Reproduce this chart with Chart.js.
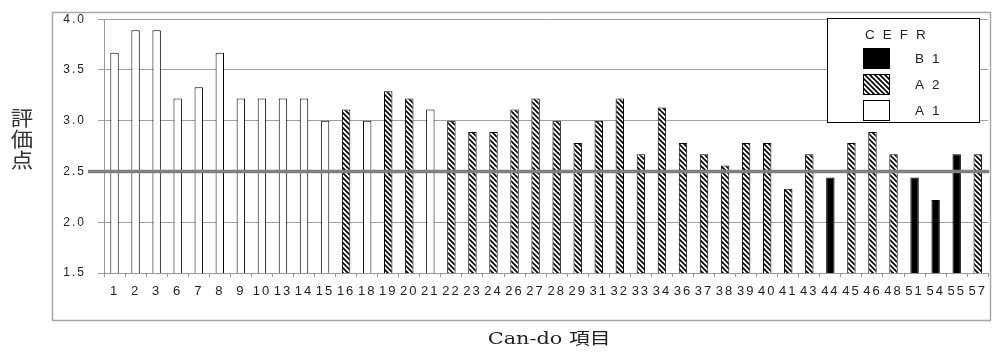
<!DOCTYPE html>
<html>
<head>
<meta charset="utf-8">
<script src="https://cdn.jsdelivr.net/npm/chart.js@4.4.1/dist/chart.umd.min.js"></script>
<style>
  html, body { margin: 0; padding: 0; background: #fff; }
  #wrap { width: 992px; height: 354px; }
</style>
</head>
<body>
<div id="wrap"><canvas id="c" width="992" height="354"></canvas></div>
<script>
// Can-do item numbers (x categories)
const items = [1, 2, 3, 6, 7, 8, 9, 10, 13, 14, 15, 16, 18, 19, 20, 21, 22, 23, 24, 26, 27,
               28, 29, 31, 32, 33, 34, 36, 37, 38, 39, 40, 41, 43, 44, 45, 46, 48, 51, 54, 55, 57];
// mean rating per item
const scores = [3.67, 3.89, 3.89, 3.22, 3.33, 3.67, 3.22, 3.22, 3.22, 3.22, 3.00, 3.11, 3.00, 3.29, 3.22, 3.11, 3.00, 2.89, 2.89, 3.11, 3.22,
                3.00, 2.78, 3.00, 3.22, 2.67, 3.13, 2.78, 2.67, 2.56, 2.78, 2.78, 2.33, 2.67, 2.44, 2.78, 2.89, 2.67, 2.44, 2.22, 2.67, 2.67];
// CEFR level of each item
const levels = ['A1', 'A1', 'A1', 'A1', 'A1', 'A1', 'A1', 'A1', 'A1', 'A1', 'A1', 'A2', 'A1', 'A2', 'A2', 'A1', 'A2', 'A2', 'A2', 'A2', 'A2',
                'A2', 'A2', 'A2', 'A2', 'A2', 'A2', 'A2', 'A2', 'A2', 'A2', 'A2', 'A2', 'A2', 'B1', 'A2', 'A2', 'A2', 'B1', 'B1', 'B1', 'A2'];
// legend order (top to bottom)
const levelOrder = ['B1', 'A2', 'A1'];
// y-axis tick values
const yTicks = [1.5, 2.0, 2.5, 3.0, 3.5, 4.0];
// reference line value
const passLine = 2.5;

const yTitle = ['評', '価', '点'];
const xTitle = 'Can-do 項目';
const legendTitle = 'CEFR';

function hatchPattern() {
  const s = 5;
  const c = document.createElement('canvas');
  c.width = s; c.height = s;
  const g = c.getContext('2d');
  g.fillStyle = '#fff';
  g.fillRect(0, 0, s, s);
  g.strokeStyle = '#000';
  g.lineWidth = 1.7;
  g.beginPath();
  g.moveTo(-1, -1); g.lineTo(s + 1, s + 1);
  g.moveTo(-1, s - 1); g.lineTo(1, s + 1);
  g.moveTo(s - 1, -1); g.lineTo(s + 1, 1);
  g.stroke();
  return g.createPattern(c, 'repeat');
}

const fills = { B1: '#000000', A2: hatchPattern(), A1: '#ffffff' };

const datasets = levelOrder.map(lv => ({
  label: lv,
  data: scores.map((v, i) => levels[i] === lv ? v : null),
  backgroundColor: fills[lv],
  borderColor: '#000',
  borderWidth: 1,
  borderSkipped: 'bottom',
  categoryPercentage: 1.0,
  barPercentage: 0.4
}));

const decor = {
  id: 'decor',
  beforeDraw(chart) {
    const ctx = chart.ctx;
    // outer frame
    ctx.save();
    ctx.strokeStyle = '#a9a9a9';
    ctx.lineWidth = 1.5;
    ctx.strokeRect(52.5, 12.5, 938, 308);
    ctx.restore();
    // spacing for tick labels
    ctx.letterSpacing = '2px';
  },
  afterDatasetsDraw(chart) {
    const ctx = chart.ctx;
    const a = chart.chartArea;
    const y = chart.scales.y.getPixelForValue(passLine);
    ctx.save();
    ctx.strokeStyle = '#7f7f7f';
    ctx.lineWidth = 3.5;
    ctx.beginPath();
    ctx.moveTo(a.left - 16, y);
    ctx.lineTo(a.right + 1, y);
    ctx.stroke();
    ctx.restore();
  },
  afterDraw(chart) {
    const ctx = chart.ctx;
    const a = chart.chartArea;
    ctx.save();
    ctx.letterSpacing = '0px';
    ctx.fillStyle = '#333';
    ctx.textAlign = 'center';
    ctx.textBaseline = 'middle';

    // vertical y-axis title
    ctx.font = '20px "Noto Sans CJK JP"';
    yTitle.forEach((ch, i) => {
      ctx.save();
      ctx.translate(22, 118 + i * 21);
      ctx.scale(1.12, 1);
      ctx.fillText(ch, 0, 0);
      ctx.restore();
    });

    // x-axis title
    ctx.font = '16px "DejaVu Serif", "Noto Sans CJK JP"';
    ctx.fillStyle = '#222';
    ctx.save();
    ctx.translate((a.left + a.right) / 2 + 3, 340);
    ctx.scale(1.3, 1);
    ctx.fillText(xTitle, 0, 0);
    ctx.restore();

    // legend box
    const bx = 827, by = 18, bw = 152, bh = 104;
    ctx.fillStyle = '#fff';
    ctx.fillRect(bx, by, bw, bh);
    ctx.strokeStyle = '#000';
    ctx.lineWidth = 1;
    ctx.strokeRect(bx + 0.5, by + 0.5, bw, bh);

    ctx.font = '13.5px "Liberation Sans", Arial, sans-serif';
    ctx.fillStyle = '#222';
    ctx.letterSpacing = '8px';
    ctx.textAlign = 'left';
    ctx.fillText(legendTitle, 865, by + 17);

    chart.data.datasets.forEach((ds, i) => {
      const cy = by + 40 + i * 26;
      ctx.fillStyle = ds.backgroundColor;
      ctx.fillRect(863, cy - 10, 26, 20);
      ctx.strokeStyle = '#000';
      ctx.lineWidth = 1;
      ctx.strokeRect(863.5, cy - 9.5, 26, 20);
      ctx.fillStyle = '#222';
      ctx.fillText(ds.label, 915, cy + 1);
    });
    ctx.restore();
    ctx.letterSpacing = '0px';
  }
};

new Chart(document.getElementById('c'), {
  type: 'bar',
  data: { labels: items.map(String), datasets },
  plugins: [decor],
  options: {
    responsive: false,
    animation: false,
    layout: { padding: { top: 15, right: 3, left: 0, bottom: 0 } },
    plugins: { legend: { display: false }, tooltip: { enabled: false } },
    scales: {
      x: {
        stacked: true,
        offset: true,
        grid: { offset: true, drawOnChartArea: false, drawTicks: true, tickLength: 4, color: '#999' },
        border: { display: true, color: '#999', width: 1 },
        ticks: {
          autoSkip: false, maxRotation: 0, minRotation: 0, padding: 7,
          color: '#222', font: { family: '"Liberation Sans", Arial, sans-serif', size: 13 }
        },
        afterFit(s) { s.height = 81; }
      },
      y: {
        stacked: false,
        min: 1.5, max: 4.0,
        afterBuildTicks(s) { s.ticks = yTicks.map(v => ({ value: v })); },
        grid: { color: '#a0a0a0', lineWidth: 1, tickLength: 6, drawTicks: true },
        border: { display: true, color: '#999', width: 1 },
        ticks: {
          padding: 12, color: '#222',
          font: { family: '"Liberation Sans", Arial, sans-serif', size: 12 },
          callback: v => Number(v).toFixed(1)
        },
        afterFit(s) { s.width = 104; }
      }
    }
  }
});
</script>
</body>
</html>
